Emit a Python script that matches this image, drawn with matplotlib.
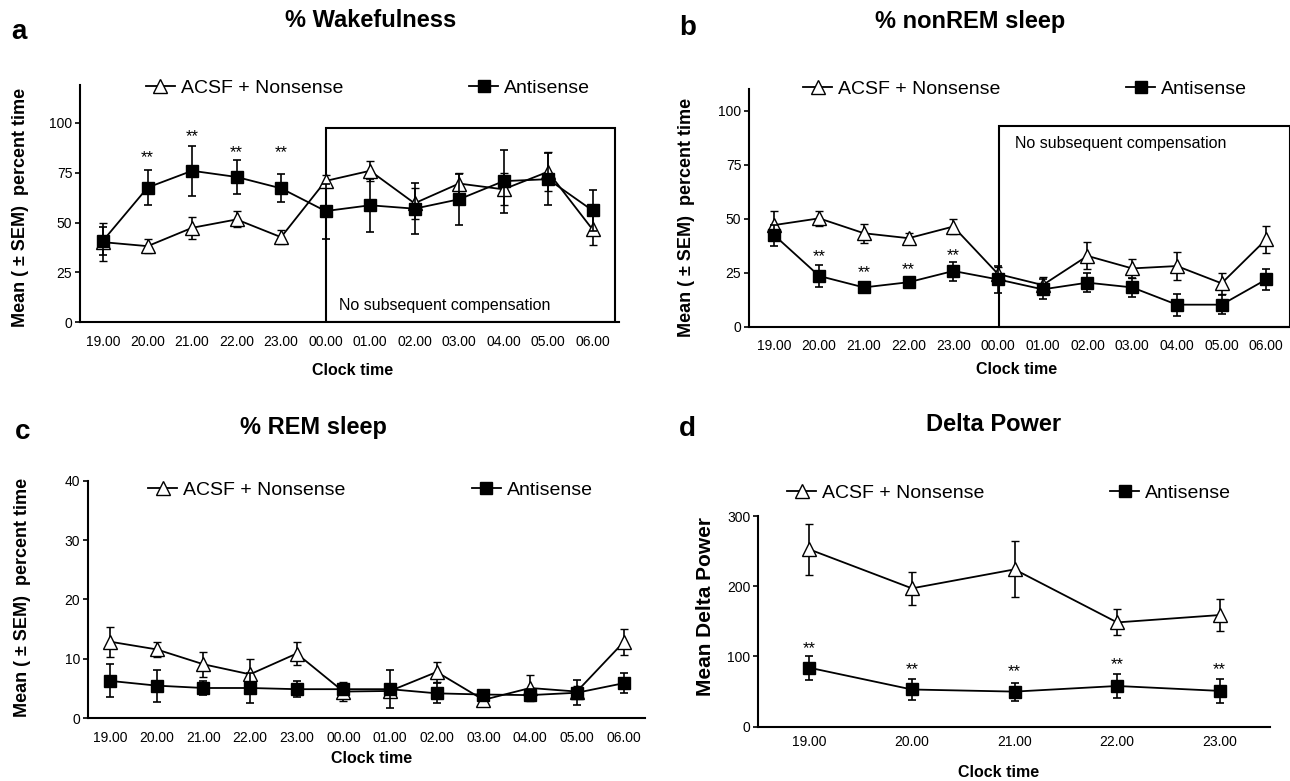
import matplotlib
matplotlib.use('Agg')
import matplotlib.pyplot as plt
from matplotlib.lines import Line2D
from matplotlib.legend import Legend
from matplotlib.patches import Rectangle

plt.rcParams['font.family'] = ['Liberation Sans', 'DejaVu Sans']

# x categories
clock_all = ['19.00', '20.00', '21.00', '22.00', '23.00', '00.00',
             '01.00', '02.00', '03.00', '04.00', '05.00', '06.00']
clock_eve = ['19.00', '20.00', '21.00', '22.00', '23.00']

# a: % wakefulness
wake_ctrl = [40.2, 38.2, 47.4, 51.6, 42.7, 70.9, 76.0, 59.7, 69.6, 66.7, 75.5, 46.6]
wake_ctrl_err = [9.5, 3.5, 5.5, 4.0, 3.5, 3.2, 5.0, 7.7, 5.5, 8.0, 9.7, 7.6]
wake_anti = [41.0, 67.6, 76.0, 72.9, 67.2, 55.8, 58.7, 57.0, 61.7, 70.8, 71.8, 56.1]
wake_anti_err = [7.0, 8.8, 12.6, 8.6, 7.0, 13.8, 13.3, 12.7, 12.7, 15.8, 13.0, 10.3]
wake_star_idx = [1, 2, 3, 4]
wake_star_y = [82.7, 93.3, 85.2, 85.2]

# b: % nonREM sleep
nrem_ctrl = [47.1, 50.2, 43.3, 41.0, 46.4, 24.4, 19.3, 32.8, 27.0, 28.1, 20.1, 40.5]
nrem_ctrl_err = [6.7, 3.6, 4.3, 2.6, 3.5, 3.4, 3.9, 6.3, 4.4, 6.4, 4.9, 6.2]
nrem_anti = [42.3, 23.5, 18.2, 20.6, 25.8, 21.9, 17.3, 20.4, 18.2, 10.2, 10.2, 21.9]
nrem_anti_err = [4.9, 5.0, 1.2, 2.6, 4.4, 6.4, 4.6, 4.3, 4.3, 5.1, 4.3, 5.0]
nrem_star_idx = [1, 2, 3, 4]
nrem_star_y = [32.5, 25.0, 26.6, 32.8]

# c: % REM sleep
rem_ctrl = [12.9, 11.6, 9.1, 7.4, 10.9, 4.5, 4.6, 7.8, 3.1, 5.1, 4.5, 12.8]
rem_ctrl_err = [2.5, 1.2, 2.1, 2.6, 2.0, 1.6, 1.0, 1.7, 1.1, 2.2, 1.0, 2.2]
rem_anti = [6.3, 5.5, 5.1, 5.1, 4.9, 4.9, 4.9, 4.2, 4.0, 3.9, 4.3, 5.9]
rem_anti_err = [2.8, 2.7, 1.2, 2.6, 1.3, 0.9, 3.2, 1.7, 0.6, 1.0, 2.1, 1.7]

# d: delta power
delta_ctrl = [252.5, 197.0, 224.0, 148.5, 159.0]
delta_ctrl_err = [36.0, 23.0, 40.0, 18.5, 23.0]
delta_anti = [84.0, 53.0, 50.0, 58.0, 51.0]
delta_anti_err = [17.0, 14.5, 12.8, 17.5, 16.6]
delta_star_idx = [0, 1, 2, 3, 4]
delta_star_y = [111.5, 81.6, 78.3, 89.0, 80.7]

fig = plt.figure(figsize=(12.9, 7.81), dpi=100)

ax_a = fig.add_axes([0.062, 0.5873, 0.418, 0.3038])
ax_b = fig.add_axes([0.5806, 0.5817, 0.4194, 0.304])
ax_c = fig.add_axes([0.0682, 0.0803, 0.4318, 0.3042])
ax_d = fig.add_axes([0.5876, 0.0695, 0.3969, 0.2698])


def draw(ax, labels, ctrl, ctrl_err, anti, anti_err, xlim, ylim, yticks, xpad):
    x = list(range(len(labels)))
    ax.errorbar(x, ctrl, yerr=ctrl_err, color='black', lw=1.3, elinewidth=1.2,
                capsize=3, capthick=1.2, marker='^', ms=10, mfc='white',
                mec='black', mew=1.0, zorder=3)
    ax.errorbar(x, anti, yerr=anti_err, color='black', lw=1.3, elinewidth=1.2,
                capsize=3, capthick=1.2, marker='s', ms=9, mfc='black',
                mec='black', zorder=4)
    ax.set_xlim(*xlim)
    ax.set_ylim(*ylim)
    ax.set_xticks(x)
    ax.set_xticklabels(labels, fontsize=10)
    ax.set_yticks(yticks)
    ax.tick_params(axis='y', labelsize=10, length=3.5, width=1.2, pad=2)
    ax.tick_params(axis='x', length=0, pad=xpad)
    for s in ['top', 'right']:
        ax.spines[s].set_visible(False)
    for s in ['left', 'bottom']:
        ax.spines[s].set_linewidth(1.5)


def legend(ax, x1, x2, y):
    h1 = Line2D([], [], color='black', lw=1.3, marker='^', ms=10, mfc='white', mec='black')
    h2 = Line2D([], [], color='black', lw=1.3, marker='s', ms=9, mfc='black')
    for h, lab, xx in [(h1, 'ACSF + Nonsense', x1), (h2, 'Antisense', x2)]:
        lg = Legend(ax, [h], [lab], loc='center left', bbox_to_anchor=(xx, y),
                    frameon=False, fontsize=14, handlelength=1.5,
                    handletextpad=0.3, borderpad=0, borderaxespad=0)
        lg.set_clip_on(False)
        ax.add_artist(lg)


def stars(ax, idx, ys):
    for i, yv in zip(idx, ys):
        ax.text(i, yv, '**', ha='center', va='center', fontsize=12)


# a
draw(ax_a, clock_all, wake_ctrl, wake_ctrl_err, wake_anti, wake_anti_err,
     (-0.52, 11.6), (0, 119), [0, 25, 50, 75, 100], 9)
ax_a.add_patch(Rectangle((5, 0), 6.5, 97.7, fill=False, lw=1.5, ec='black', zorder=2))
ax_a.text(5.31, 8.3, 'No subsequent compensation', fontsize=11.5, va='center', ha='left')
stars(ax_a, wake_star_idx, wake_star_y)
legend(ax_a, 0.122, 0.722, 0.987)

# b
draw(ax_b, clock_all, nrem_ctrl, nrem_ctrl_err, nrem_anti, nrem_anti_err,
     (-0.57, 11.53), (0, 110), [0, 25, 50, 75, 100], 9)
ax_b.add_patch(Rectangle((5.02, 0), 6.51, 92.9, fill=False, lw=1.5, ec='black',
                         zorder=2, clip_on=False))
ax_b.text(5.37, 85, 'No subsequent compensation', fontsize=11.5, va='center', ha='left')
stars(ax_b, nrem_star_idx, nrem_star_y)
legend(ax_b, 0.10, 0.697, 1.0)

# c
draw(ax_c, clock_all, rem_ctrl, rem_ctrl_err, rem_anti, rem_anti_err,
     (-0.47, 11.46), (0, 40), [0, 10, 20, 30, 40], 9)
legend(ax_c, 0.108, 0.689, 0.961)

# d
draw(ax_d, clock_eve, delta_ctrl, delta_ctrl_err, delta_anti, delta_anti_err,
     (-0.5, 4.49), (0, 300), [0, 100, 200, 300], 6)
stars(ax_d, delta_star_idx, delta_star_y)
legend(ax_d, 0.057, 0.6875, 1.109)

# titles and panel letters
fig.text(0.287, 0.974, '% Wakefulness', ha='center', va='center', fontsize=17, fontweight='bold')
fig.text(0.752, 0.973, '% nonREM sleep', ha='center', va='center', fontsize=17, fontweight='bold')
fig.text(0.243, 0.453, '% REM sleep', ha='center', va='center', fontsize=17, fontweight='bold')
fig.text(0.770, 0.456, 'Delta Power', ha='center', va='center', fontsize=17, fontweight='bold')
fig.text(0.0143, 0.959, 'a', ha='center', va='center', fontsize=20, fontweight='bold')
fig.text(0.533, 0.964, 'b', ha='center', va='center', fontsize=20, fontweight='bold')
fig.text(0.0175, 0.447, 'c', ha='center', va='center', fontsize=20, fontweight='bold')
fig.text(0.533, 0.451, 'd', ha='center', va='center', fontsize=20, fontweight='bold')

# axis labels
fig.text(0.273, 0.525, 'Clock time', ha='center', va='center', fontsize=11.5, fontweight='bold')
fig.text(0.788, 0.5275, 'Clock time', ha='center', va='center', fontsize=11.5, fontweight='bold')
fig.text(0.288, 0.0294, 'Clock time', ha='center', va='center', fontsize=11.5, fontweight='bold')
fig.text(0.774, 0.0115, 'Clock time', ha='center', va='center', fontsize=11.5, fontweight='bold')
ylab = 'Mean ( \u00b1 SEM)  percent time'
fig.text(0.016, 0.735, ylab, ha='center', va='center', rotation=90, fontsize=13, fontweight='bold')
fig.text(0.532, 0.722, ylab, ha='center', va='center', rotation=90, fontsize=13, fontweight='bold')
fig.text(0.0175, 0.2356, ylab, ha='center', va='center', rotation=90, fontsize=13, fontweight='bold')
fig.text(0.547, 0.223, 'Mean Delta Power', ha='center', va='center', rotation=90, fontsize=15, fontweight='bold')

fig.savefig('out.png', dpi=100)
